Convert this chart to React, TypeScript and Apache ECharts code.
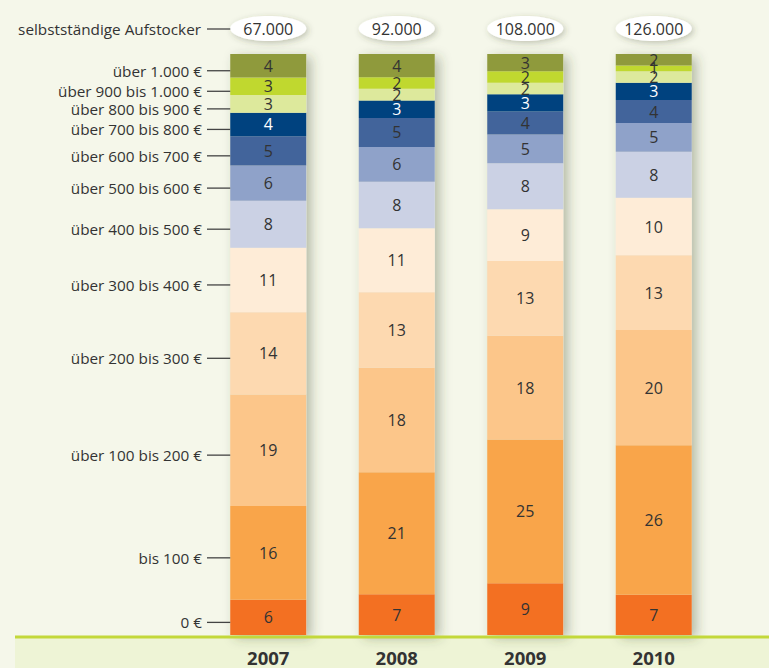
import React, { useEffect, useRef } from "react";
import * as echarts from "echarts";

const years = ["2007", "2008", "2009", "2010"];
const totals = ["67.000", "92.000", "108.000", "126.000"];
const headerLabel = "selbstständige Aufstocker";

// bands, bottom to top
const bandLabels = [
  "0 €",
  "bis 100 €",
  "über 100 bis 200 €",
  "über 200 bis 300 €",
  "über 300 bis 400 €",
  "über 400 bis 500 €",
  "über 500 bis 600 €",
  "über 600 bis 700 €",
  "über 700 bis 800 €",
  "über 800 bis 900 €",
  "über 900 bis 1.000 €",
  "über 1.000 €",
];
const v0 = [6, 7, 9, 7];
const vBis100 = [16, 21, 25, 26];
const v100to200 = [19, 18, 18, 20];
const v200to300 = [14, 13, 13, 13];
const v300to400 = [11, 11, 9, 10];
const v400to500 = [8, 8, 8, 8];
const v500to600 = [6, 6, 5, 5];
const v600to700 = [5, 5, 4, 4];
const v700to800 = [4, 3, 3, 3];
const v800to900 = [3, 2, 2, 2];
const v900to1000 = [3, 2, 2, 1];
const vOver1000 = [4, 4, 3, 2];

const bandValues = [
  v0, vBis100, v100to200, v200to300, v300to400, v400to500,
  v500to600, v600to700, v700to800, v800to900, v900to1000, vOver1000,
];
const bandColors = [
  "#f37022", "#f9a54a", "#fcc68a", "#fdd9b0", "#feecd7", "#cbd1e4",
  "#8fa2c9", "#42649b", "#00427f", "#dde99c", "#c0d82f", "#8f9a3c",
];
const labelColors = bandColors.map((_, i) => (i === 8 ? "#ffffff" : "#333333"));

const FONT = "'Open Sans', 'Noto Sans', sans-serif";
const BG = "#f5f7ea";

export default function App() {
  const ref = useRef<HTMLDivElement>(null);
  useEffect(() => {
    document.body.style.margin = "0";
    if (!ref.current) return;
    const chart = echarts.init(ref.current, null, { renderer: "svg" });
    const sums = years.map((_, j) => bandValues.reduce((a, b) => a + b[j], 0));
    const norm = bandValues.map((arr) => arr.map((v, j) => (v / sums[j]) * 100));

    const series: any[] = [
      {
        type: "bar",
        name: "shadow",
        data: years.map(() => 100),
        barWidth: 76,
        barGap: "-100%",
        z: 1,
        silent: true,
        itemStyle: {
          color: "#e8ead8",
          shadowBlur: 12,
          shadowOffsetX: 5,
          shadowOffsetY: 3,
          shadowColor: "rgba(60,70,40,0.35)",
        },
      },
    ];
    bandValues.forEach((arr, i) => {
      series.push({
        type: "bar",
        name: bandLabels[i],
        stack: "a",
        barWidth: 76,
        z: 3,
        data: norm[i],
        itemStyle: { color: bandColors[i] },
        label: {
          show: true,
          position: "inside",
          fontSize: 16,
          fontFamily: FONT,
          color: labelColors[i],
          formatter: (p: any) => String(arr[p.dataIndex]),
        },
      });
    });

    chart.setOption({
      animation: false,
      backgroundColor: BG,
      grid: { left: 204, right: 51, top: 54, bottom: 33 },
      xAxis: {
        type: "category",
        data: years,
        z: 10,
        axisLine: { show: false },
        axisTick: { show: false },
        axisLabel: {
          fontSize: 18.5,
          fontWeight: "bold",
          color: "#333333",
          fontFamily: FONT,
          margin: 13,
        },
      },
      yAxis: { type: "value", min: 0, max: 100, show: false },
      series,
    });

    const graphics: any[] = [
      {
        type: "rect",
        z: 0,
        shape: { x: 15, y: 637, width: 754, height: 31 },
        style: { fill: "#eef4d6" },
      },
      {
        type: "line",
        z: 5,
        shape: { x1: 15, y1: 637, x2: 769, y2: 637 },
        style: { stroke: "#c3d83a", lineWidth: 3 },
      },
    ];
    // pills
    years.forEach((_, j) => {
      const cx = chart.convertToPixel({ xAxisIndex: 0 }, j) as number;
      graphics.push({
        type: "ellipse",
        z: 5,
        shape: { cx, cy: 28.5, rx: 38, ry: 12.5 },
        style: {
          fill: "#ffffff",
          shadowBlur: 6,
          shadowOffsetX: 2,
          shadowOffsetY: 2,
          shadowColor: "rgba(60,70,40,0.3)",
        },
      });
      graphics.push({
        type: "text",
        z: 6,
        x: cx,
        y: 29,
        style: {
          text: totals[j],
          textAlign: "center",
          textVerticalAlign: "middle",
          font: `16px ${FONT}`,
          fill: "#333333",
        },
      });
    });
    const x0 = chart.convertToPixel({ xAxisIndex: 0 }, 0) as number;
    const barLeft = x0 - 38;
    graphics.push({
      type: "text",
      z: 6,
      x: 201,
      y: 29,
      style: {
        text: headerLabel,
        textAlign: "right",
        textVerticalAlign: "middle",
        font: `15.3px ${FONT}`,
        fill: "#333333",
      },
    });
    graphics.push({
      type: "line",
      z: 6,
      shape: { x1: 207, y1: 29, x2: barLeft, y2: 29 },
      style: { stroke: "#444444", lineWidth: 1.3 },
    });
    // band labels for the first bar
    let cum = 0;
    norm.forEach((arr, i) => {
      const mid = cum + arr[0] / 2;
      cum += arr[0];
      const y = (chart.convertToPixel({ yAxisIndex: 0 }, mid) as number) + 5;
      graphics.push({
        type: "text",
        z: 6,
        x: 202,
        y,
        style: {
          text: bandLabels[i],
          textAlign: "right",
          textVerticalAlign: "middle",
          font: `15.3px ${FONT}`,
          fill: "#333333",
        },
      });
      graphics.push({
        type: "line",
        z: 6,
        shape: { x1: 207, y1: y, x2: barLeft, y2: y },
        style: { stroke: "#444444", lineWidth: 1.3 },
      });
    });
    chart.setOption({ graphic: { elements: graphics } });

    return () => chart.dispose();
  }, []);
  return (
    <div
      ref={ref}
      style={{ position: "absolute", left: 0, top: 0, width: 769, height: 668 }}
    />
  );
}
